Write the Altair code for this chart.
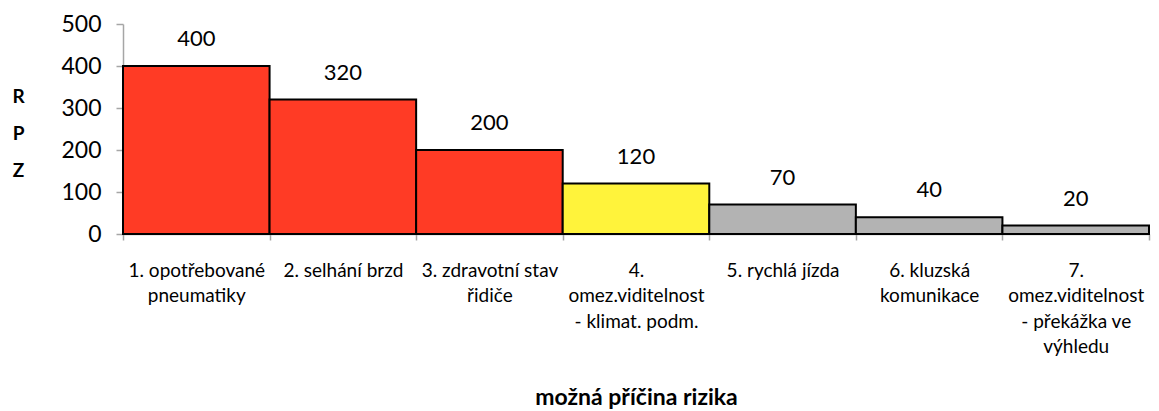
import altair as alt
import pandas as pd

labels = [
    "1. opotřebované|pneumatiky",
    "2. selhání brzd",
    "3. zdravotní stav|řidiče",
    "4.|omez.viditelnost|- klimat. podm.",
    "5. rychlá jízda",
    "6. kluzská|komunikace",
    "7.|omez.viditelnost|- překážka ve|výhledu",
]
values = [400, 320, 200, 120, 70, 40, 20]
colors = ["#FF3B25", "#FF3B25", "#FF3B25", "#FFF33B", "#B3B3B3", "#B3B3B3", "#B3B3B3"]

df = pd.DataFrame({"cat": labels, "rpz": values, "col": colors})

FONT = "Lato"

x = alt.X(
    "cat:N",
    sort=labels,
    scale=alt.Scale(paddingInner=0, paddingOuter=0),
    axis=alt.Axis(
        title="možná příčina rizika",
        titleFont=FONT, titleFontSize=23, titleFontWeight="bold", titleColor="black",
        titlePadding=30,
        labelExpr="split(datum.label, '|')",
        labelAngle=0, labelFont=FONT, labelFontSize=19, labelColor="black",
        labelLineHeight=25.5, labelPadding=21, labelBaseline="top",
        tickBand="extent", tickColor="#A6A6A6", tickSize=6, tickWidth=1.5,
        domainColor="#A6A6A6", domainWidth=1.5,
        grid=False, labelLimit=200,
    ),
)

y = alt.Y(
    "rpz:Q",
    scale=alt.Scale(domain=[0, 500]),
    axis=alt.Axis(
        values=[0, 100, 200, 300, 400, 500],
        title=["R", "P", "Z"], titleAngle=0, titleFont=FONT, titleFontSize=19,
        titleFontWeight="bold", titleColor="black", titleLineHeight=37,
        titleX=-105, titleY=63, titleAlign="center", titleBaseline="top",
        labelFont=FONT, labelFontSize=23, labelColor="black", labelPadding=15,
        tickColor="#A6A6A6", tickSize=7, tickWidth=1.5,
        domainColor="#A6A6A6", domainWidth=1.5, grid=False,
    ),
)

base = alt.Chart(df).encode(x=x, y=y)

bars = base.mark_bar(stroke="black", strokeWidth=2).encode(
    color=alt.Color("col:N", scale=None),
)

text = base.mark_text(
    font=FONT, fontSize=22, color="black", baseline="bottom", dy=-15
).encode(text="rpz:Q")

chart = (bars + text).properties(
    width=1026, height=210,
    autosize=alt.AutoSizeParams(type="none"),
    padding={"left": 115, "top": 16, "right": 2, "bottom": 176},
).configure_view(stroke=None)

chart.save("out.html", embed_options={"renderer": "svg", "actions": False})
